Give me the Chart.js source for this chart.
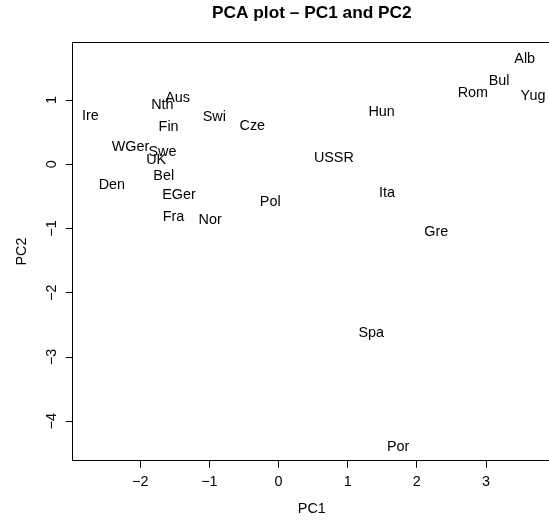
<!DOCTYPE html>
<html>
<head>
<meta charset="utf-8">
<script src="https://cdn.jsdelivr.net/npm/chart.js@4.4.1/dist/chart.umd.min.js"></script>
<style>
  html, body { margin: 0; padding: 0; overflow: hidden; background: #fff; }
  #wrap { width: 551px; height: 525px; }
</style>
</head>
<body>
<div id="wrap"><canvas id="myChart"></canvas></div>
<script>
// landen en hun scores op de eerste twee hoofdcomponenten
const countries = ['Alb', 'Aus', 'Bel', 'Bul', 'Cze', 'Den', 'EGer', 'Fin', 'Fra', 'Gre',
                   'Hun', 'Ire', 'Ita', 'Nth', 'Nor', 'Pol', 'Por', 'Rom', 'Spa', 'Swe',
                   'Swi', 'UK', 'USSR', 'WGer', 'Yug'];
const pc1 = [3.56, -1.46, -1.66, 3.19, -0.38, -2.41, -1.44, -1.59, -1.52, 2.28,
             1.49, -2.72, 1.57, -1.68, -0.99, -0.12, 1.73, 2.81, 1.34, -1.68,
             -0.93, -1.77, 0.80, -2.14, 3.68];
const pc2 = [1.65, 1.04, -0.17, 1.31, 0.61, -0.31, -0.46, 0.60, -0.81, -1.04,
             0.83, 0.76, -0.43, 0.94, -0.85, -0.57, -4.39, 1.13, -2.61, 0.21,
             0.75, 0.08, 0.11, 0.29, 1.07];

const xTicks = [-2, -1, 0, 1, 2, 3];
const yTicks = [-4, -3, -2, -1, 0, 1];

const FONT = "'Liberation Sans', Arial, Helvetica, sans-serif";
const minus = v => (v < 0 ? '\u2212' + Math.abs(v) : String(v));

// tekst op de plek van elk punt, zoals text() in R
const labelPlugin = {
    id: 'pointLabels',
    afterDatasetsDraw(chart) {
        const ctx = chart.ctx;
        const meta = chart.getDatasetMeta(0);
        ctx.save();
        ctx.font = '14.4px ' + FONT;
        ctx.fillStyle = '#000';
        ctx.textAlign = 'center';
        ctx.textBaseline = 'middle';
        meta.data.forEach((pt, i) => {
            ctx.fillText(countries[i], pt.x, pt.y + 1);
        });
        ctx.restore();
    }
};

// bovenrand van het plotkader
const framePlugin = {
    id: 'frame',
    afterDraw(chart) {
        const { ctx, chartArea } = chart;
        ctx.save();
        ctx.strokeStyle = '#000';
        ctx.lineWidth = 1;
        ctx.beginPath();
        ctx.moveTo(chartArea.left, Math.round(chartArea.top) + 0.5);
        ctx.lineTo(chartArea.right, Math.round(chartArea.top) + 0.5);
        ctx.stroke();
        ctx.restore();
    }
};

const ctx = document.getElementById('myChart').getContext('2d');
const pcaChart = new Chart(ctx, {
    type: 'scatter',
    data: {
        datasets: [{
            data: countries.map((c, i) => ({ x: pc1[i], y: pc2[i] })),
            pointRadius: 0,
            pointHoverRadius: 0
        }]
    },
    options: {
        responsive: true,
        maintainAspectRatio: false,
        animation: false,
        events: [],
        layout: { padding: 0 },
        plugins: {
            legend: { display: false },
            tooltip: { enabled: false },
            title: {
                display: true,
                fullSize: false,
                text: 'PCA plot \u2013 PC1 and PC2',
                color: '#000',
                font: { family: FONT, size: 17.3, weight: 'bold' },
                padding: { top: 2.9, bottom: 18.6 }
            }
        },
        scales: {
            x: {
                type: 'linear',
                min: -2.977,
                max: 3.94,
                afterBuildTicks: axis => { axis.ticks = xTicks.map(v => ({ value: v })); },
                afterFit: axis => { axis.height = 64.3; },
                grid: { drawOnChartArea: false, drawTicks: true, tickLength: 7, tickColor: '#000' },
                border: { display: true, color: '#000', width: 1 },
                ticks: {
                    padding: 5.4,
                    color: '#000',
                    font: { family: FONT, size: 14.4 },
                    maxRotation: 0,
                    callback: v => minus(v)
                },
                title: {
                    display: true,
                    text: 'PC1',
                    color: '#000',
                    font: { family: FONT, size: 14.4 },
                    padding: { top: 0, bottom: 7 }
                }
            },
            y: {
                type: 'linear',
                min: -4.613,
                max: 1.899,
                afterBuildTicks: axis => { axis.ticks = yTicks.map(v => ({ value: v })); },
                afterFit: axis => { axis.width = 72.7; },
                grid: { drawOnChartArea: false, drawTicks: true, tickLength: 7, tickColor: '#000' },
                border: { display: true, color: '#000', width: 1 },
                ticks: {
                    padding: 5.5,
                    color: '#000',
                    font: { family: FONT, size: 14.4 },
                    minRotation: 90,
                    maxRotation: 90,
                    crossAlign: 'center',
                    callback: v => minus(v)
                },
                title: {
                    display: true,
                    text: 'PC2',
                    color: '#000',
                    font: { family: FONT, size: 14.4 },
                    padding: { top: 13, bottom: 0 }
                }
            }
        }
    },
    plugins: [labelPlugin, framePlugin]
});
</script>
</body>
</html>
